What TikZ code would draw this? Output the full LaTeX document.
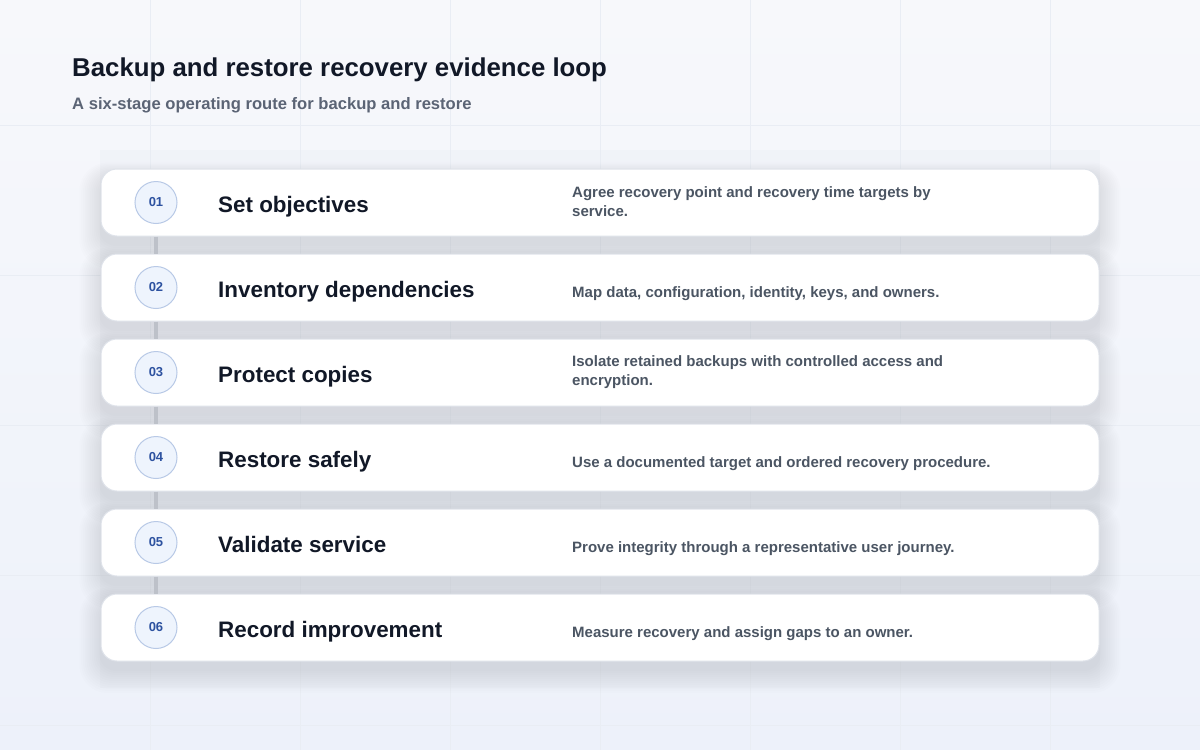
\documentclass[tikz,border=0pt]{standalone}
\usepackage{fontspec}
\setmainfont{Liberation Sans}
\definecolor{bgA}{HTML}{F7F8FB}
\definecolor{bgB}{HTML}{EDF1FA}
\definecolor{gridc}{HTML}{E9EDF4}
\definecolor{titlec}{HTML}{111827}
\definecolor{subc}{HTML}{5B6475}
\definecolor{descc}{HTML}{4B5563}
\definecolor{cardline}{HTML}{DFE3EA}
\definecolor{numc}{HTML}{2D52A0}
\definecolor{numfill}{HTML}{EEF4FD}
\definecolor{numline}{HTML}{B8C9E6}
\definecolor{linkc}{HTML}{BDC1C9}
\definecolor{panelc}{HTML}{E6EAF3}
\definecolor{shadc}{HTML}{2A3550}
\tikzset{
  cardbox/.style={rectangle, rounded corners=16pt, fill=white, draw=cardline, line width=1pt,
    minimum width=998pt, minimum height=67pt},
  numbadge/.style={circle, fill=numfill, draw=numline, line width=1pt, minimum size=42pt, inner sep=0pt,
    text=numc, font=\fontsize{13}{15}\selectfont\bfseries},
  steptitle/.style={anchor=base west, inner sep=0pt, text=titlec, font=\fontsize{22.4}{26}\selectfont\bfseries},
  stepdesc/.style={anchor=west, inner sep=0pt, align=left, text=descc, font=\fontsize{15}{19}\selectfont\bfseries},
  stepdescone/.style={anchor=base west, inner sep=0pt, text=descc, font=\fontsize{15}{19}\selectfont\bfseries},
  linkline/.style={draw=linkc, line width=3.5pt},
  softshadow/.style={fill=shadc, fill opacity=0.0065},
}
\begin{document}
\begin{tikzpicture}[x=1pt,y=-1pt]
\useasboundingbox (0,0) rectangle (1200,750);
\shade[top color=bgA, bottom color=bgB] (0,0) rectangle (1200,750);
\foreach \gx in {150,300,...,1050} \draw[gridc, line width=0.8pt] (\gx,0) -- (\gx,750);
\foreach \gy in {125,275,...,725} \draw[gridc, line width=0.8pt] (0,\gy) -- (1200,\gy);
\fill[panelc, opacity=0.3] (100,150) rectangle (1100,688);
\node[anchor=base west, inner sep=0pt, text=titlec, font=\fontsize{25.8}{30}\selectfont\bfseries] (title) at (72,76) {Backup and restore recovery evidence loop};
\node[anchor=base west, inner sep=0pt, text=subc, font=\fontsize{16.6}{20}\selectfont\bfseries] (subtitle) at (72,109) {A six-stage operating route for backup and restore};
% soft shadows
\foreach \i in {1,...,6} {
  \pgfmathsetmacro{\cy}{202.5+85*(\i-1)}
  \foreach \k in {1,...,12} {
    \fill[softshadow, rounded corners=16pt+\k pt] (101-\k*1.8,\cy-33.5+8-\k*1.2) rectangle (1099+\k*1.8,\cy+33.5+8+\k*2);
  }
}
\foreach \i/\nm/\tt in {1/01/Set objectives, 2/02/Inventory dependencies, 3/03/Protect copies,
  4/04/Restore safely, 5/05/Validate service, 6/06/Record improvement} {
  \pgfmathsetmacro{\cy}{202.5+85*(\i-1)}
  \node[cardbox] (c\i) at (600,\cy) {};
  \node[numbadge] (n\i) at (156,\cy) {\nm};
  \node[steptitle] (t\i) at (218,\cy+9.5) {\tt};
}
\node[stepdesc] (d1) at (572,202.5-0.5) {Agree recovery point and recovery time targets by\\service.};
\node[stepdescone] (d2) at (572,287.5+9.5) {Map data, configuration, identity, keys, and owners.};
\node[stepdesc] (d3) at (572,372.5-0.5) {Isolate retained backups with controlled access and\\encryption.};
\node[stepdescone] (d4) at (572,457.5+9.5) {Use a documented target and ordered recovery procedure.};
\node[stepdescone] (d5) at (572,542.5+9.5) {Prove integrity through a representative user journey.};
\node[stepdescone] (d6) at (572,627.5+9.5) {Measure recovery and assign gaps to an owner.};
\foreach \i [evaluate=\i as \j using int(\i+1)] in {1,...,5} {
  \draw[linkline] (n\i |- c\i.south) -- (n\j |- c\j.north);
}
\end{tikzpicture}
\end{document}
